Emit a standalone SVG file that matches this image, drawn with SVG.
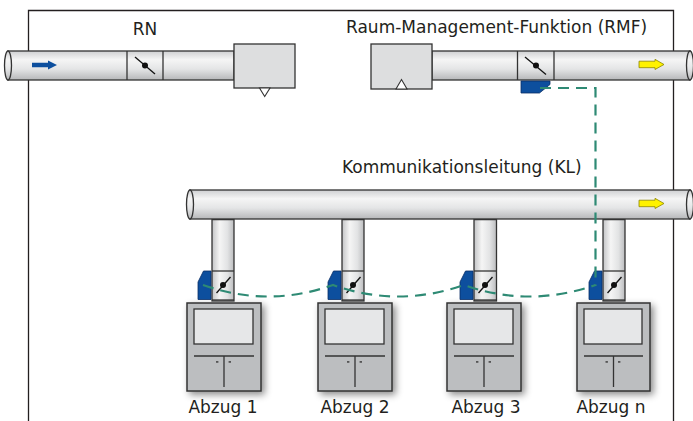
<svg xmlns="http://www.w3.org/2000/svg" width="693" height="421" viewBox="0 0 693 421">
  <defs>
    <linearGradient id="pipeV" x1="0" y1="0" x2="0" y2="1">
      <stop offset="0" stop-color="#cfd0d2"/>
      <stop offset="0.3" stop-color="#f5f5f5"/>
      <stop offset="0.62" stop-color="#e4e5e6"/>
      <stop offset="1" stop-color="#b6b7b9"/>
    </linearGradient>
    <linearGradient id="pipeH" x1="0" y1="0" x2="1" y2="0">
      <stop offset="0" stop-color="#c3c4c6"/>
      <stop offset="0.35" stop-color="#f5f5f5"/>
      <stop offset="0.7" stop-color="#e2e3e4"/>
      <stop offset="1" stop-color="#bcbdbf"/>
    </linearGradient>
    <filter id="shadow" x="-20%" y="-20%" width="150%" height="150%">
      <feDropShadow dx="3" dy="3" stdDeviation="3.5" flood-color="#000" flood-opacity="0.45"/>
    </filter>
  </defs>
  <style>
    .frame { fill: none; stroke: #231f20; stroke-width: 1.3; }
    .pipe { fill: url(#pipeV); stroke: #333; stroke-width: 1.3; }
    .branch { fill: url(#pipeH); stroke: #333; stroke-width: 1.3; }
    .sep { stroke: #333; stroke-width: 1.3; fill: none; }
    .box { fill: #dddedf; stroke: #333; stroke-width: 1.3; }
    .tri { fill: #fff; stroke: #333; stroke-width: 1.1; }
    .flap { stroke: #111; stroke-width: 1.3; }
    .pivot { fill: #111; }
    .act { fill: #0d4f9e; stroke: #0a2f66; stroke-width: 0.8; }
    .arrowBlue { fill: #0d4f9e; }
    .arrowYellow { fill: #fff200; stroke: #8a8400; stroke-width: 0.8; }
    .hood { fill: #bcbec0; stroke: #333; stroke-width: 1.5; }
    .win { fill: #e6e7e8; stroke: #333; stroke-width: 1.3; }
    .dot { fill: #555; }
    .bus { fill: none; stroke: #2e8a74; stroke-width: 2.2; stroke-dasharray: 11 7; }
    text { font-family: "DejaVu Sans", "Liberation Sans", sans-serif; font-size: 17px; fill: #231f20; }
    .lbl { text-anchor: middle; }
  </style>

  <!-- outer frame (open at the bottom) -->
  <path class="frame" d="M28.5,421 V10.5 H673.5 V421"/>

  <!-- supply line with room unit -->
  <g id="rn">
    <text x="145" y="35" class="lbl">RN</text>
    <rect class="pipe" x="8" y="51" width="226" height="29"/>
    <ellipse class="pipe" cx="8" cy="65.5" rx="3.5" ry="14.5"/>
    <line class="sep" x1="127" y1="51" x2="127" y2="80"/>
    <line class="sep" x1="163" y1="51" x2="163" y2="80"/>
    <line class="flap" x1="135" y1="57" x2="155" y2="74"/>
    <circle class="pivot" cx="145" cy="65.5" r="3"/>
    <path class="arrowBlue" d="M32,62.7 H48 V60.5 L57,65 L48,69.5 V67.3 H32 Z"/>
    <rect class="box" x="234" y="44" width="61" height="44"/>
    <path class="tri" d="M259.5,88 L270,88 L264.7,96.5 Z"/>
  </g>

  <!-- room management function -->
  <g id="rmf">
    <text x="346" y="33">Raum-Management-Funktion (RMF)</text>
    <rect class="pipe" x="432" y="51" width="258" height="29"/>
    <ellipse class="pipe" cx="690" cy="65.5" rx="3.5" ry="14.5"/>
    <line class="sep" x1="517.5" y1="51" x2="517.5" y2="80"/>
    <line class="sep" x1="554" y1="51" x2="554" y2="80"/>
    <line class="flap" x1="525" y1="57" x2="546" y2="74.5"/>
    <circle class="pivot" cx="536" cy="65.5" r="3"/>
    <path class="arrowYellow" d="M639,61.2 H655 V59.3 L664,64.5 L655,69.5 V67.7 H639 Z"/>
    <rect class="box" x="371" y="44" width="61" height="45"/>
    <path class="tri" d="M396,89 L407,89 L401.5,79.5 Z"/>
    <path class="act" d="M521,81 H550 V84.5 L539.5,93 H521 Z"/>
  </g>

  <!-- communication line (exhaust header) -->
  <g id="kl">
    <text x="342" y="173">Kommunikationsleitung (KL)</text>
    <rect class="pipe" x="190" y="190" width="500" height="29"/>
    <ellipse class="pipe" cx="190" cy="204.5" rx="3.5" ry="14.5"/>
    <ellipse class="pipe" cx="690" cy="204.5" rx="3.5" ry="14.5"/>
    <path class="arrowYellow" d="M639,200.2 H655 V198.3 L664,203.5 L655,208.5 V206.7 H639 Z"/>
  </g>

  <!-- fume hood 1 -->
  <g id="abzug1">
    <rect class="hood" x="187" y="303" width="74" height="88" filter="url(#shadow)"/>
    <rect class="win" x="194" y="309" width="59" height="35"/>
    <line class="sep" x1="194" y1="356" x2="254" y2="356"/>
    <line class="sep" x1="224" y1="356" x2="224" y2="387"/>
    <rect class="dot" x="216" y="361" width="2.4" height="1.8"/>
    <rect class="dot" x="228.6" y="361" width="2.4" height="1.8"/>
    <rect class="branch" x="212" y="219.6" width="22" height="81.4"/>
    <line class="sep" x1="212" y1="271" x2="234" y2="271"/>
    <line class="sep" x1="212" y1="300" x2="234" y2="300"/>
    <line class="flap" x1="216.5" y1="293" x2="230.5" y2="277"/>
    <circle class="pivot" cx="223" cy="285" r="3"/>
    <path class="act" d="M203.5,271 H211 V299.5 H198 V282 Z"/>
    <text x="223" y="413" class="lbl">Abzug 1</text>
  </g>

  <!-- fume hood 2 -->
  <g id="abzug2">
    <rect class="hood" x="318" y="303" width="74" height="88" filter="url(#shadow)"/>
    <rect class="win" x="325" y="309" width="59" height="35"/>
    <line class="sep" x1="325" y1="356" x2="385" y2="356"/>
    <line class="sep" x1="355" y1="356" x2="355" y2="387"/>
    <rect class="dot" x="347" y="361" width="2.4" height="1.8"/>
    <rect class="dot" x="359.6" y="361" width="2.4" height="1.8"/>
    <rect class="branch" x="342" y="219.6" width="22" height="81.4"/>
    <line class="sep" x1="342" y1="271" x2="364" y2="271"/>
    <line class="sep" x1="342" y1="300" x2="364" y2="300"/>
    <line class="flap" x1="346.5" y1="293" x2="360.5" y2="277"/>
    <circle class="pivot" cx="353" cy="285" r="3"/>
    <path class="act" d="M333.5,271 H341 V299.5 H328 V282 Z"/>
    <text x="355" y="413" class="lbl">Abzug 2</text>
  </g>

  <!-- fume hood 3 -->
  <g id="abzug3">
    <rect class="hood" x="447" y="303" width="74" height="88" filter="url(#shadow)"/>
    <rect class="win" x="454" y="309" width="59" height="35"/>
    <line class="sep" x1="454" y1="356" x2="514" y2="356"/>
    <line class="sep" x1="484" y1="356" x2="484" y2="387"/>
    <rect class="dot" x="476" y="361" width="2.4" height="1.8"/>
    <rect class="dot" x="488.6" y="361" width="2.4" height="1.8"/>
    <rect class="branch" x="474" y="219.6" width="22.5" height="81.4"/>
    <line class="sep" x1="474" y1="271" x2="496.5" y2="271"/>
    <line class="sep" x1="474" y1="300" x2="496.5" y2="300"/>
    <line class="flap" x1="478.5" y1="293" x2="492.5" y2="277"/>
    <circle class="pivot" cx="485" cy="285" r="3"/>
    <path class="act" d="M465.5,271 H473 V299.5 H460 V282 Z"/>
    <text x="486" y="413" class="lbl">Abzug 3</text>
  </g>

  <!-- fume hood n -->
  <g id="abzugN">
    <rect class="hood" x="577" y="303" width="73" height="88" filter="url(#shadow)"/>
    <rect class="win" x="584" y="309" width="58" height="35"/>
    <line class="sep" x1="584" y1="356" x2="643" y2="356"/>
    <line class="sep" x1="613.5" y1="356" x2="613.5" y2="387"/>
    <rect class="dot" x="605.5" y="361" width="2.4" height="1.8"/>
    <rect class="dot" x="618" y="361" width="2.4" height="1.8"/>
    <rect class="branch" x="603" y="219.6" width="22" height="81.4"/>
    <line class="sep" x1="603" y1="271" x2="625" y2="271"/>
    <line class="sep" x1="603" y1="300" x2="625" y2="300"/>
    <line class="flap" x1="607.5" y1="293" x2="621.5" y2="277"/>
    <circle class="pivot" cx="614" cy="285" r="3"/>
    <path class="act" d="M594.5,271 H602 V299.5 H589 V282 Z"/>
    <text x="611" y="413" class="lbl">Abzug n</text>
  </g>

  <!-- bus connections -->
  <g id="connectors">
    <path class="bus" d="M540,88 H595.5 V286"/>
    <path class="bus" d="M203,285 Q268,308 333,285 Q398,308 464,285 Q529,308 595.5,285"/>
  </g>
</svg>
